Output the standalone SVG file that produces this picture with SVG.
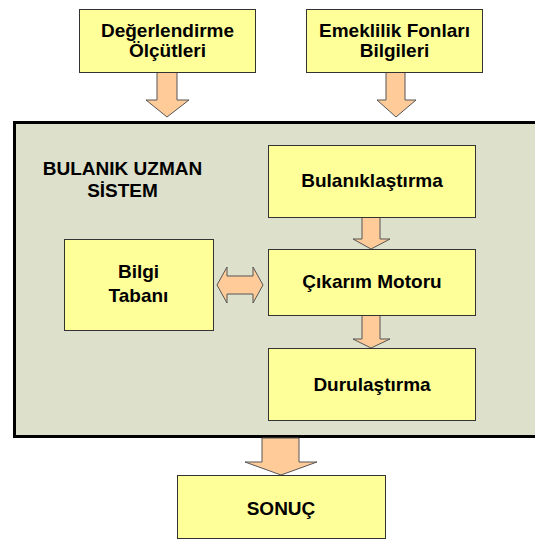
<svg xmlns="http://www.w3.org/2000/svg" width="535" height="550" viewBox="0 0 535 550">
<style>
.box{fill:#ffff99;stroke:#333;stroke-width:1}
.arr{fill:#ffcc99;stroke:#555;stroke-width:1;stroke-linejoin:miter}
text{font-family:"Liberation Sans",Arial,sans-serif;font-weight:bold;font-size:19px;fill:#000;text-anchor:middle}
</style>
<rect width="535" height="550" fill="#fff"/>
<g id="system">
<rect x="14.5" y="122.5" width="524" height="314" fill="#dde0ca" stroke="#000" stroke-width="3"/>
<text x="122.5" y="175">BULANIK UZMAN</text>
<text x="122.5" y="197">SİSTEM</text>
</g>
<g id="connectors">
<polygon class="arr" points="157,72 177,72 177,100 189,100 167,117 146,100 157,100"/>
<polygon class="arr" points="386,72 405,72 405,100 416,100 396,117 377,100 386,100"/>
<polygon class="arr" points="362,217 380,217 380,239 390,239 371,249 353,239 362,239"/>
<polygon class="arr" points="362,315 380,315 380,339 390,339 371,348 353,339 362,339"/>
<polygon class="arr" points="217,285 227,267 227,276 253,276 253,267 263,285 253,303 253,294 227,294 227,303"/>
<polygon class="arr" points="262,438 299,438 299,462 317,462 281,475 245,462 262,462"/>
</g>
<g id="degerlendirme">
<rect class="box" x="79.5" y="9.5" width="176" height="63"/>
<text x="167.5" y="37">Değerlendirme</text>
<text x="167.5" y="57">Ölçütleri</text>
</g>
<g id="emeklilik">
<rect class="box" x="306.5" y="9.5" width="176" height="63"/>
<text x="394.5" y="37">Emeklilik Fonları</text>
<text x="394.5" y="57">Bilgileri</text>
</g>
<g id="bulaniklastirma">
<rect class="box" x="268.5" y="145.5" width="207" height="72"/>
<text x="372" y="187">Bulanıklaştırma</text>
</g>
<g id="cikarim">
<rect class="box" x="268.5" y="249.5" width="207" height="66"/>
<text x="372" y="288">Çıkarım Motoru</text>
</g>
<g id="durulastirma">
<rect class="box" x="268.5" y="348.5" width="207" height="72"/>
<text x="372" y="391">Durulaştırma</text>
</g>
<g id="bilgi">
<rect class="box" x="64.5" y="239.5" width="149" height="91"/>
<text x="138.5" y="278">Bilgi</text>
<text x="138.5" y="302">Tabanı</text>
</g>
<g id="sonuc">
<rect class="box" x="177.5" y="475.5" width="208" height="63"/>
<text x="281" y="515">SONUÇ</text>
</g>
</svg>
